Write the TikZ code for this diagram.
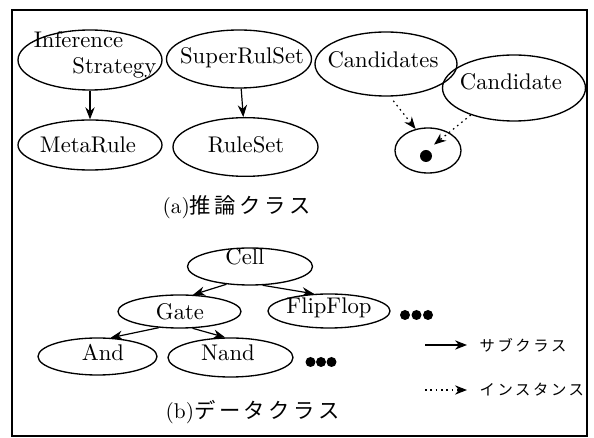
\documentclass[tikz,border=0pt]{standalone}
\usepackage{fontspec}
\setmainfont{lmroman10-regular.otf}
\newfontfamily\jafont[LetterSpace=17]{Noto Sans CJK JP}
\usetikzlibrary{shapes.geometric,arrows.meta}

\tikzset{every picture/.style={line width=0.9pt}}
\tikzset{
  cls/.style={draw, ellipse, inner sep=0pt, line width=1pt},
  lbl/.style={inner sep=0.75pt, font=\fontsize{17}{19}\selectfont},
  captxt/.style={anchor=west, inner sep=0.75pt, font=\fontsize{16}{18}\selectfont},
  leg/.style={anchor=west, inner sep=0.75pt, font=\fontsize{11.5}{14}\selectfont\jafont},
  sub/.style={-{Stealth[length=9pt,width=7pt]}, line width=0.9pt},
  inst/.style={sub, dash pattern=on 1.2pt off 2.8pt}
}

\begin{document}
\begin{tikzpicture}[x=0.75pt,y=0.75pt,yscale=-1,xscale=1]
  \useasboundingbox (0,0) rectangle (594,438);
  %Frame
  \draw [line width=1.8pt] (12,10) rectangle (587,436);

  %Shape: Ellipse (a)
  \node [cls, minimum width=108pt, minimum height=45pt] (infer) at (90,60) {};
  \node [cls, minimum width=108.75pt, minimum height=43.5pt] (super) at (239,59) {};
  \node [cls, minimum width=108pt, minimum height=37.5pt] (meta) at (90,145) {};
  \node [cls, minimum width=108.75pt, minimum height=44pt] (ruleset) at (245.5,147) {};
  \node [cls, minimum width=106.5pt, minimum height=48pt] (cands) at (386,64) {};
  \node [cls, minimum width=107.25pt, minimum height=49.5pt] (cand) at (514,88) {};
  \node [cls, minimum width=49.5pt, minimum height=33.75pt] (obj) at (428,150.5) {};
  \node [circle, fill, inner sep=0pt, minimum size=9pt] (objdot) at (426,156) {};

  % Text Node
  \node [lbl, align=left] (infer-t) at (95,55) {Inference\\\hspace*{29pt}Strategy};
  \node [lbl] (super-t) at (242,58) {SuperRulSet};
  \node [lbl] (meta-t) at (88,145) {MetaRule};
  \node [lbl] (ruleset-t) at (246,145) {RuleSet};
  \node [lbl] (cands-t) at (383,60) {Candidates};
  \node [lbl] (cand-t) at (511,82) {Candidate};

  %Arrows (a)
  \draw [sub] (infer) -- (meta);
  \draw [sub] (super) -- (ruleset);
  \draw [inst, shorten <=4pt] (cands.277) -- (obj.120);
  \draw [inst, shorten >=6pt] (cand.212) -- (objdot.74);

  % Text Node
  \node [captxt] (cap-a) at (161,207) {(a)\jafont 推論クラス};

  %Shape: Ellipse (b)
  \node [cls, minimum width=93.75pt, minimum height=27.75pt] (cell) at (250,266.5) {};
  \node [cls, minimum width=92.25pt, minimum height=24.75pt] (gate) at (179.5,311.5) {};
  \node [cls, minimum width=91.5pt, minimum height=25.5pt] (flip) at (329,311) {};
  \node [cls, minimum width=89.25pt, minimum height=27.75pt] (and) at (97.5,356.5) {};
  \node [cls, minimum width=93.75pt, minimum height=29.25pt] (nand) at (230.5,357.5) {};

  % Text Node
  \node [lbl] (cell-t) at (245,257) {Cell};
  \node [lbl] (gate-t) at (180,312) {Gate};
  \node [lbl] (flip-t) at (329,308) {FlipFlop};
  \node [lbl] (and-t) at (103,353) {And};
  \node [lbl] (nand-t) at (228,353) {Nand};

  %Arrows (b)
  \draw [sub] (cell.217) -- (gate.51);
  \draw [sub] (cell.304) -- (flip.131);
  \draw [sub] (gate.218) -- (and.55);
  \draw [sub] (gate.308) -- (nand.105);

  %Dots
  \foreach \x in {405,416.5,428} \fill (\x,315) circle [radius=5];
  \foreach \x in {310.5,321,331.5} \fill (\x,362) circle [radius=5];

  % Text Node
  \node [captxt] (cap-b) at (164,412) {(b)\jafont データクラス};

  %Legend
  \coordinate (sub-a) at (425,345);
  \coordinate (sub-b) at (467,345);
  \coordinate (inst-a) at (425,390);
  \coordinate (inst-b) at (467,390);
  \draw [sub] (sub-a) -- (sub-b);
  \draw [inst] (inst-a) -- (inst-b);
  \node [leg] (sub-t) at (478,345) {サブクラス};
  \node [leg] (inst-t) at (478,390) {インスタンス};
\end{tikzpicture}
\end{document}
